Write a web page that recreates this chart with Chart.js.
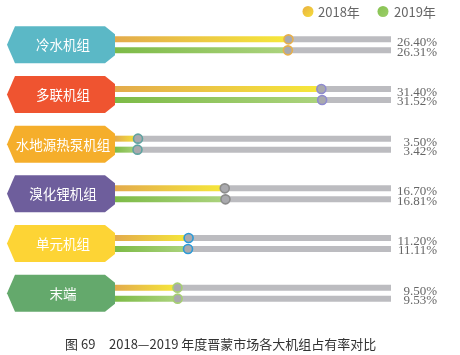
<!DOCTYPE html>
<html>
<head>
<meta charset="utf-8">
<script src="https://cdn.jsdelivr.net/npm/chart.js@4.4.1/dist/chart.umd.min.js"></script>
<style>
  html, body { margin: 0; padding: 0; background: #ffffff; }
  #wrap { width: 460px; height: 355px; position: relative; }
</style>
</head>
<body>
<div id="wrap"><canvas id="c" width="460" height="355"></canvas></div>
<script>
// ---- data ----
const categories = ['冷水机组', '多联机组', '水地源热泵机组', '溴化锂机组', '单元机组', '末端'];
const share2018 = [26.40, 31.40, 3.50, 16.70, 11.20, 9.50];
const share2019 = [26.31, 31.52, 3.42, 16.81, 11.11, 9.53];
const seriesNames = ['2018年', '2019年'];
const captionNo = '图 69';
const captionText = '2018—2019 年度晋蒙市场各大机组占有率对比';
const axisMax = 42;

// ---- styles ----
const labelColors = ['#5bb8c6', '#ef5430', '#f5ae2b', '#6e5e9c', '#fdd435', '#64a96c'];
const markerColors = ['#e8b04a', '#8f8bd0', '#5fa3a0', '#8c8c8c', '#2b9bd8', '#a6cf72'];
const trackColor = '#bcbcc0';

function gradFill(c0, c1) {
  return function (ctx) {
    const chart = ctx.chart;
    if (!chart.chartArea || ctx.type !== 'data') return c0;
    const xs = chart.scales.x;
    const x0 = xs.getPixelForValue(0);
    const x1 = xs.getPixelForValue(ctx.raw);
    const g = chart.ctx.createLinearGradient(x0, 0, Math.max(x1, x0 + 1), 0);
    g.addColorStop(0, c0);
    g.addColorStop(1, c1);
    return g;
  };
}

const decorPlugin = {
  id: 'decor',
  afterDatasetsDraw(chart) {
    const ctx = chart.ctx;
    const ys = chart.scales.y;
    ctx.save();
    // left hexagon labels
    categories.forEach((cat, i) => {
      const yc = ys.getPixelForValue(i);
      const top = yc - 18.5, bot = yc + 18.5;
      ctx.beginPath();
      ctx.moveTo(15, top);
      ctx.lineTo(105, top);
      ctx.lineTo(115, top + 8);
      ctx.lineTo(115, bot - 8);
      ctx.lineTo(105, bot);
      ctx.lineTo(15, bot);
      ctx.lineTo(7, yc);
      ctx.closePath();
      ctx.fillStyle = labelColors[i];
      ctx.fill();
      ctx.fillStyle = '#ffffff';
      ctx.font = '13.5px "Noto Sans CJK SC"';
      ctx.textAlign = 'center';
      ctx.textBaseline = 'middle';
      ctx.fillText(cat, 63, yc + 0.5);
    });
    // markers and value labels
    [[0, share2018, 3.5], [2, share2019, 2]].forEach(([di, vals, dy]) => {
      const meta = chart.getDatasetMeta(di);
      meta.data.forEach((bar, i) => {
        ctx.beginPath();
        ctx.arc(bar.x, bar.y, 4.5, 0, Math.PI * 2);
        ctx.fillStyle = '#a9a9ad';
        ctx.fill();
        ctx.lineWidth = 1.6;
        ctx.strokeStyle = markerColors[i];
        ctx.stroke();
        ctx.fillStyle = '#666666';
        ctx.font = '13px "Liberation Serif"';
        ctx.textAlign = 'right';
        ctx.textBaseline = 'middle';
        ctx.fillText(vals[i].toFixed(2) + '%', 437, bar.y + dy);
      });
    });
    // legend
    const legendItems = [
      { x: 308, tx: 318, c0: '#e9b040', c1: '#f5dc3c' },
      { x: 383, tx: 394, c0: '#86c250', c1: '#9ccd6a' }
    ];
    legendItems.forEach((it, k) => {
      const g = ctx.createLinearGradient(it.x - 5, 6, it.x + 5, 17);
      g.addColorStop(0, it.c0);
      g.addColorStop(1, it.c1);
      ctx.beginPath();
      ctx.arc(it.x, 11.5, 5.5, 0, Math.PI * 2);
      ctx.fillStyle = g;
      ctx.fill();
      ctx.fillStyle = '#666666';
      ctx.font = '13px "Noto Sans CJK SC"';
      ctx.textAlign = 'left';
      ctx.textBaseline = 'middle';
      ctx.fillText(seriesNames[k], it.tx, 12);
    });
    // caption
    ctx.fillStyle = '#333333';
    ctx.font = '13px "Noto Sans CJK SC"';
    ctx.textAlign = 'left';
    ctx.textBaseline = 'middle';
    ctx.fillText(captionNo, 65, 344);
    ctx.fillText(captionText, 109, 344);
    ctx.restore();
  }
};

new Chart(document.getElementById('c'), {
  type: 'bar',
  data: {
    labels: categories,
    datasets: [
      { label: seriesNames[0], data: share2018, stack: 's2018', backgroundColor: gradFill('#e3ab4c', '#f6e83a') },
      { label: 'track2018', data: share2018.map(v => axisMax - v), stack: 's2018', backgroundColor: trackColor },
      { label: seriesNames[1], data: share2019, stack: 's2019', backgroundColor: gradFill('#7dbb47', '#acd37e') },
      { label: 'track2019', data: share2019.map(v => axisMax - v), stack: 's2019', backgroundColor: trackColor }
    ]
  },
  options: {
    indexAxis: 'y',
    responsive: false,
    animation: false,
    categoryPercentage: 0.4427,
    barPercentage: 0.545,
    borderSkipped: false,
    layout: { padding: { left: 115, right: 69, top: 20, bottom: 37 } },
    scales: {
      x: { display: false, stacked: true, min: 0, max: axisMax },
      y: { display: false, stacked: true }
    },
    plugins: {
      legend: { display: false },
      title: { display: false },
      tooltip: { enabled: false }
    }
  },
  plugins: [decorPlugin]
});
</script>
</body>
</html>
